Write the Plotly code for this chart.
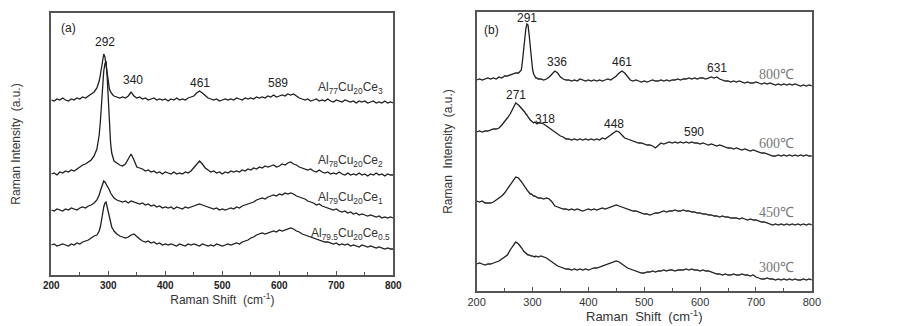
import plotly.graph_objects as go

# Raman shift grid (cm^-1): coarse, fine around the main peaks, coarse
shift = list(range(200, 281, 5)) + list(range(282, 311, 2)) + list(range(315, 801, 5))

# ---- panel (a): stacked spectra (a.u., with vertical offsets as plotted)
al77 = [175,174,176,175,177,175,174,176,175,177,176,178,177,179,181,183,187,
        190,194,200,208,216,221,218,209,199,192,186,183,181,180,179,
        178,177,178,177,179,183,179,177,178,176,
        177,175,176,177,175,176,175,176,174,176,
        175,177,175,176,175,177,178,179,182,184,
        182,179,177,176,175,176,174,175,176,175,
        176,175,177,176,175,177,176,177,176,178,
        177,178,177,179,178,180,178,179,180,179,
        181,180,181,179,177,176,175,176,174,175,
        176,174,175,174,176,174,173,175,174,173,
        175,174,173,174,172,174,173,174,172,173,
        174,172,173,172,174,172,173,172]
al78 = [101,102,100,103,102,104,103,105,104,106,108,110,111,113,115,119,126,
        133,140,153,172,190,204,211,214,198,172,148,132,122,117,114,
        112,110,109,111,116,121,115,108,107,106,
        104,105,103,104,102,103,101,103,102,101,
        103,101,102,101,103,102,104,107,111,114,
        111,107,105,103,104,102,103,101,103,102,
        104,103,104,103,105,104,106,105,107,106,
        108,107,109,108,109,110,108,109,111,110,
        112,113,111,110,108,107,106,105,106,104,
        103,105,103,102,103,101,102,101,103,101,
        100,102,100,101,100,102,100,101,99,101,
        100,102,100,101,99,101,100,100]
al79 = [65,64,66,65,64,66,65,67,66,65,67,68,67,69,70,72,75,
        77,80,84,88,92,94,93,91,89,88,85,82,80,78,77,
        75,74,73,74,72,74,73,72,71,72,
        70,71,69,70,68,69,67,68,67,68,
        66,68,67,66,68,67,68,69,70,71,
        70,69,68,67,66,67,65,66,65,66,
        67,66,68,67,69,70,71,72,73,75,
        76,77,76,78,79,80,79,81,80,82,
        81,82,81,79,78,77,76,74,73,72,
        70,71,69,68,67,66,65,66,64,63,
        64,62,63,61,62,60,61,60,59,60,
        59,58,59,57,58,57,58,57]
al795 = [30,31,29,30,31,30,29,31,30,32,31,33,34,35,37,39,40,
         42,44,48,53,61,68,72,73,68,62,56,51,48,46,44,
         41,39,38,37,38,40,41,38,36,34,
         33,34,32,33,31,32,30,31,30,31,
         30,29,31,30,29,31,30,31,30,29,
         31,30,29,30,29,31,30,29,30,31,
         30,31,32,31,33,34,35,37,38,40,
         41,42,41,42,43,44,43,45,44,45,
         46,47,46,44,43,41,40,39,38,37,
         36,35,34,33,33,32,31,32,30,31,
         30,31,29,30,29,28,30,29,28,29,
         28,27,28,27,26,27,26,26]

# ---- panel (b): annealing temperatures
t800 = [211,212,211,212,213,212,213,212,214,213,215,215,216,217,218,218,221,
        230,243,252,262,267,266,256,244,231,222,217,215,213,213,212,
        212,211,212,214,217,220,218,214,212,211,
        211,210,211,210,212,211,210,211,210,211,
        210,211,210,211,212,211,213,215,218,220,
        218,214,211,210,211,210,209,210,209,210,
        211,210,210,211,210,211,210,211,211,212,
        211,212,212,213,212,213,212,213,213,212,
        213,214,213,214,212,211,210,210,209,210,
        209,210,209,208,209,208,208,209,208,207,
        208,207,208,207,206,207,206,207,206,207,
        206,207,206,205,206,205,206,205]
t600 = [159,160,159,160,160,161,162,162,163,166,169,173,177,182,188,186,183,
        182,181,179,177,176,174,172,171,170,169,168,169,168,167,168,
        168,167,165,163,161,159,157,155,154,152,
        152,151,152,151,152,151,152,151,152,151,
        152,151,153,152,154,156,158,160,159,156,
        153,152,151,150,149,148,148,147,146,146,
        145,143,146,148,147,148,149,148,149,148,
        149,148,149,148,149,148,148,147,148,147,
        146,147,146,145,146,145,144,143,143,142,
        143,142,141,142,141,140,141,140,139,138,
        138,137,136,135,135,136,135,136,135,136,
        135,136,135,136,135,136,135,135]
t450 = [90,89,90,88,88,88,89,91,93,95,98,102,106,110,114,113,110,
        108,106,105,103,101,100,98,97,97,96,95,95,94,94,93,
        93,92,93,92,89,85,84,83,82,82,
        81,82,81,82,81,80,81,82,81,82,
        81,82,83,82,83,84,85,86,85,84,
        83,82,81,80,80,79,78,77,77,76,
        77,78,78,79,80,79,80,80,81,80,
        80,81,80,80,79,79,78,78,77,77,
        76,76,75,75,74,75,74,74,73,73,
        73,72,73,72,71,72,71,71,70,69,
        69,68,67,66,67,66,67,66,67,66,
        67,66,67,66,67,66,67,66]
t300 = [27,28,27,26,27,27,28,29,30,32,34,36,41,45,49,47,44,
        42,40,39,38,37,36,36,35,35,35,34,34,35,34,34,
        35,34,33,31,29,27,25,24,23,22,
        22,21,22,21,22,21,22,21,22,23,
        23,24,25,26,27,28,29,30,29,27,
        25,23,22,21,20,19,18,18,19,19,
        20,19,20,20,21,20,21,21,20,21,
        21,21,22,21,22,21,21,20,21,20,
        20,19,18,17,17,16,17,16,16,17,
        16,16,17,16,16,15,16,14,13,12,
        12,13,12,12,11,12,11,12,11,12,
        11,12,11,11,12,11,12,11]

series_a = [al77, al78, al79, al795]
labels_a = ["Al<sub>77</sub>Cu<sub>20</sub>Ce<sub>3</sub>",
            "Al<sub>78</sub>Cu<sub>20</sub>Ce<sub>2</sub>",
            "Al<sub>79</sub>Cu<sub>20</sub>Ce<sub>1</sub>",
            "Al<sub>79.5</sub>Cu<sub>20</sub>Ce<sub>0.5</sub>"]
label_y_a = [187, 114, 77, 41]
peaks_a = ["292", "340", "461", "589"]
peak_pos_a = [(295, 233), (344, 195), (461, 192), (597, 192)]

series_b = [t800, t600, t450, t300]
labels_b = ["800℃", "600℃", "450℃", "300℃"]
label_y_b = [217, 148, 79, 24]
peaks_b = ["291", "336", "461", "631", "271", "318", "448", "590"]
peak_pos_b = [(291, 273), (344, 229), (461, 229), (630, 223),
              (270, 196), (323, 172), (446, 167), (589, 159)]

for s in series_a + series_b:
    assert len(s) == len(shift), (len(s), len(shift))

fig = go.Figure()
line_col = "#1e1e1e"
for s in series_a:
    fig.add_trace(go.Scatter(x=shift, y=s, mode="lines", xaxis="x", yaxis="y",
                             line=dict(color=line_col, width=1.3), showlegend=False))
for s in series_b:
    fig.add_trace(go.Scatter(x=shift, y=s, mode="lines", xaxis="x2", yaxis="y2",
                             line=dict(color=line_col, width=1.3), showlegend=False))

ann = []
font_num = dict(family="Liberation Sans, Arial", size=12, color="#222")
ann.append(dict(x=231, y=247, xref="x", yref="y", text="(a)", showarrow=False,
                font=dict(family="Liberation Sans, Arial", size=12, color="#222")))
for t, (px, py) in zip(peaks_a, peak_pos_a):
    ann.append(dict(x=px, y=py, xref="x", yref="y", text=t, showarrow=False, font=font_num))
for t, ly in zip(labels_a, label_y_a):
    ann.append(dict(x=724, y=ly, xref="x", yref="y", text=t, showarrow=False,
                    font=dict(family="Liberation Sans, Arial", size=12, color="#333")))

ann.append(dict(x=226, y=261, xref="x2", yref="y2", text="(b)", showarrow=False,
                font=dict(family="Liberation Sans, Arial", size=12, color="#222")))
for t, (px, py) in zip(peaks_b, peak_pos_b):
    ann.append(dict(x=px, y=py, xref="x2", yref="y2", text=t, showarrow=False, font=font_num))
for t, ly in zip(labels_b, label_y_b):
    ann.append(dict(x=737, y=ly, xref="x2", yref="y2", text=t, showarrow=False,
                    font=dict(family="Liberation Serif, Times New Roman", size=14, color="#777")))

axis_common = dict(range=[200, 800], showline=True, mirror=True, linecolor="#555", linewidth=1.5,
                   ticks="inside", ticklen=4, tickcolor="#555", dtick=100, tick0=200,
                   showgrid=False, zeroline=False,
                   minor=dict(ticks="inside", ticklen=3, dtick=50, tickcolor="#555"))

fig.update_layout(
    width=903, height=326, margin=dict(l=0, r=0, t=0, b=0),
    paper_bgcolor="white", plot_bgcolor="white",
    xaxis=dict(domain=[35/903, 384/903], anchor="y",
               tickfont=dict(family="Liberation Sans, Arial", size=10, color="#222", weight="bold"),
               title=dict(text="Raman Shift  (cm<sup>-1</sup>)", standoff=4,
                          font=dict(family="Liberation Sans, Arial", size=12, color="#333")),
               **axis_common),
    yaxis=dict(domain=[1 - 267/326, 1 - 5/326], anchor="x", range=[0, 262],
               showline=True, mirror=True, linecolor="#555", linewidth=1.5,
               showticklabels=False, ticks="", showgrid=False, zeroline=False,
               title=dict(text="Raman Intensity  (a.u.)", standoff=26,
                          font=dict(family="Liberation Sans, Arial", size=12, color="#333"))),
    xaxis2=dict(domain=[469/903, 811/903], anchor="y2",
                tickfont=dict(family="Liberation Sans, Arial", size=11, color="#333"),
                title=dict(text="Raman  Shift  (cm<sup>-1</sup>)", standoff=5,
                           font=dict(family="Liberation Sans, Arial", size=13, color="#333")),
                **axis_common),
    yaxis2=dict(domain=[1 - 283/326, 1 - 4/326], anchor="x2", range=[0, 279],
                showline=True, mirror=True, linecolor="#555", linewidth=1.5,
                showticklabels=False, ticks="", showgrid=False, zeroline=False,
                title=dict(text="Raman  Intensity  (a.u.)", standoff=20,
                           font=dict(family="Liberation Sans, Arial", size=12, color="#333"))),
    annotations=ann,
)

fig.write_html("out.html")
